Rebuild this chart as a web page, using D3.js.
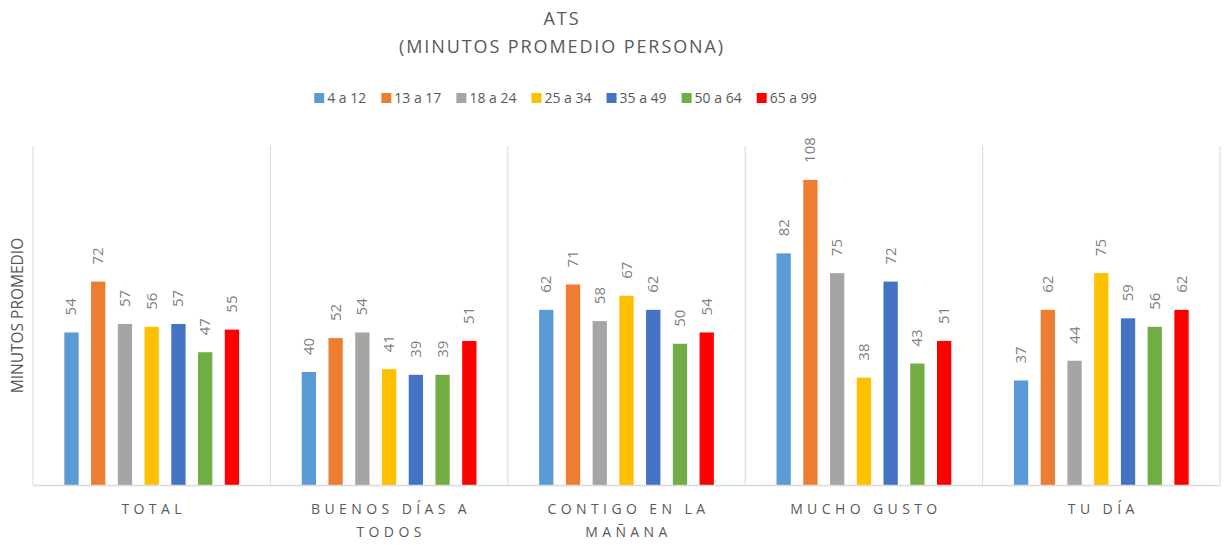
<!DOCTYPE html>
<html>
<head>
<meta charset="utf-8">
<script src="https://cdn.jsdelivr.net/npm/d3@7"></script>
<style>
  body { margin: 0; background: #fff; }
  svg { font-family: "Open Sans", sans-serif; }
</style>
</head>
<body>
<svg id="chart" width="1226" height="545"></svg>
<script>
const width = 1226,
  height = 545;

// data
const categories = [
  ["TOTAL"],
  ["BUENOS DÍAS A", "TODOS"],
  ["CONTIGO EN LA", "MAÑANA"],
  ["MUCHO GUSTO"],
  ["TU DÍA"]
];
const series = ["4 a 12", "13 a 17", "18 a 24", "25 a 34", "35 a 49", "50 a 64", "65 a 99"];
const colors = ["#5B9BD5", "#ED7D31", "#A5A5A5", "#FFC000", "#4472C4", "#70AD47", "#FF0000"];
const values = [
  [54, 72, 57, 56, 57, 47, 55],
  [40, 52, 54, 41, 39, 39, 51],
  [62, 71, 58, 67, 62, 50, 54],
  [82, 108, 75, 38, 72, 43, 51],
  [37, 62, 44, 75, 59, 56, 62]
];

const margin = { top: 146, right: 6, bottom: 60, left: 33 };
const svg = d3.select("#chart");

const x0 = d3
  .scaleBand()
  .domain(d3.range(categories.length))
  .range([margin.left, width - margin.right])
  .padding(0);

const bw = x0.bandwidth();
const x1 = d3
  .scaleBand()
  .domain(d3.range(series.length))
  .range([bw * 0.132, bw * 0.868])
  .paddingInner(0.466)
  .paddingOuter(0);

const y = d3
  .scaleLinear()
  .domain([0, 120])
  .range([height - margin.bottom, margin.top]);

// vertical separators between categories
svg
  .append("g")
  .selectAll("line")
  .data(d3.range(categories.length + 1))
  .join("line")
  .attr("x1", (d) => (d < categories.length ? x0(d) : x0.range()[1]))
  .attr("x2", (d) => (d < categories.length ? x0(d) : x0.range()[1]))
  .attr("y1", y(120))
  .attr("y2", y(0))
  .attr("stroke", "#d9d9d9")
  .attr("stroke-width", 1);

// bars
const groups = svg
  .append("g")
  .selectAll("g")
  .data(values)
  .join("g")
  .attr("transform", (d, i) => `translate(${x0(i)},0)`);

groups
  .selectAll("rect")
  .data((d) => d)
  .join("rect")
  .attr("x", (d, j) => x1(j))
  .attr("y", (d) => y(d))
  .attr("width", x1.bandwidth())
  .attr("height", (d) => y(0) - y(d))
  .attr("fill", (d, j) => colors[j]);

// data labels, rotated
groups
  .selectAll("text")
  .data((d) => d)
  .join("text")
  .attr("transform", (d, j) => `translate(${x1(j) + x1.bandwidth() / 2 + 5},${y(d) - 17}) rotate(-90)`)
  .attr("font-size", 15)
  .attr("fill", "#7f7f7f")
  .text((d) => d);

// x axis baseline
svg
  .append("line")
  .attr("x1", margin.left)
  .attr("x2", width - margin.right)
  .attr("y1", y(0) + 0.5)
  .attr("y2", y(0) + 0.5)
  .attr("stroke", "#d9d9d9")
  .attr("stroke-width", 1.5);

// category labels
svg
  .append("g")
  .selectAll("text")
  .data(categories)
  .join("text")
  .attr("x", (d, i) => x0(i) + bw / 2 + 2)
  .attr("y", y(0) + 29)
  .attr("text-anchor", "middle")
  .attr("font-size", 14)
  .attr("letter-spacing", 4.4)
  .attr("fill", "#595959")
  .selectAll("tspan")
  .data((d) => d)
  .join("tspan")
  .attr("x", function () {
    return this.parentNode.getAttribute("x");
  })
  .attr("dy", (d, k) => (k === 0 ? 0 : 23))
  .text((d) => d);

// y axis title
svg
  .append("text")
  .attr("transform", `translate(23,${(y(0) + y(120)) / 2}) rotate(-90)`)
  .attr("text-anchor", "middle")
  .attr("font-size", 15.5)
  .attr("fill", "#595959")
  .text("MINUTOS PROMEDIO");

// title
const title = svg
  .append("text")
  .attr("text-anchor", "middle")
  .attr("font-size", 18)
  .attr("letter-spacing", 1.9)
  .attr("fill", "#595959");
title.append("tspan").attr("x", 562).attr("y", 25).text("ATS");
title.append("tspan").attr("x", 562).attr("y", 53).text("(MINUTOS PROMEDIO PERSONA)");

// legend
const legend = svg.append("g").attr("font-size", 14).attr("fill", "#595959");
let lx = 0;
legend
  .selectAll("g")
  .data(series)
  .join("g")
  .each(function (d, j) {
    const g = d3.select(this);
    g.append("rect")
      .attr("x", 0)
      .attr("y", -5)
      .attr("width", 10)
      .attr("height", 10)
      .attr("fill", colors[j]);
    const t = g.append("text").attr("x", 13).attr("y", 5).text(d);
    g.attr("transform", `translate(${lx},0)`);
    lx += 13 + t.node().getComputedTextLength() + 15;
  });
const legendWidth = lx - 15;
legend.attr("transform", `translate(${565.5 - legendWidth / 2},98)`);
</script>
</body>
</html>
